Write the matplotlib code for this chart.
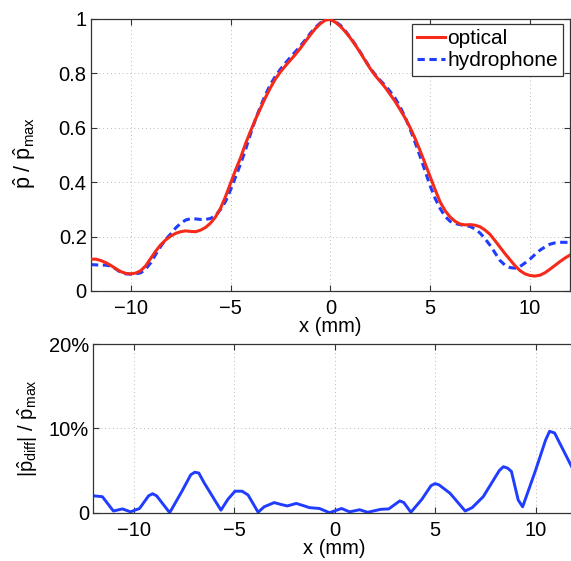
import numpy as np
import matplotlib
matplotlib.use("Agg")
import matplotlib.pyplot as plt
from matplotlib.ticker import FixedLocator, FixedFormatter

plt.rcParams['font.family'] = ['Liberation Sans', 'DejaVu Sans']
plt.rcParams['mathtext.fontset'] = 'custom'
plt.rcParams['mathtext.rm'] = 'Liberation Sans'
plt.rcParams['mathtext.it'] = 'Liberation Sans:italic'
plt.rcParams['mathtext.bf'] = 'Liberation Sans:bold'

# lateral position of the beam profile samples (mm), 0.25 mm spacing
x_profile = [-12.0, -11.75, -11.5, -11.25, -11.0, -10.75, -10.5, -10.25,
             -10.0, -9.75, -9.5, -9.25, -9.0, -8.75, -8.5, -8.25,
             -8.0, -7.75, -7.5, -7.25, -7.0, -6.75, -6.5, -6.25,
             -6.0, -5.75, -5.5, -5.25, -5.0, -4.75, -4.5, -4.25,
             -4.0, -3.75, -3.5, -3.25, -3.0, -2.75, -2.5, -2.25,
             -2.0, -1.75, -1.5, -1.25, -1.0, -0.75, -0.5, -0.25,
             0.0, 0.25, 0.5, 0.75, 1.0, 1.25, 1.5, 1.75,
             2.0, 2.25, 2.5, 2.75, 3.0, 3.25, 3.5, 3.75,
             4.0, 4.25, 4.5, 4.75, 5.0, 5.25, 5.5, 5.75,
             6.0, 6.25, 6.5, 6.75, 7.0, 7.25, 7.5, 7.75,
             8.0, 8.25, 8.5, 8.75, 9.0, 9.25, 9.5, 9.75,
             10.0, 10.25, 10.5, 10.75, 11.0, 11.25, 11.5, 11.75, 12.0]

# normalised peak pressure, optical measurement
p_optical = [0.117, 0.117, 0.112, 0.104, 0.094, 0.082, 0.071, 0.065,
             0.063, 0.066, 0.075, 0.093, 0.120, 0.147, 0.170, 0.188,
             0.202, 0.212, 0.218, 0.221, 0.219, 0.218, 0.224, 0.234,
             0.250, 0.273, 0.305, 0.348, 0.397, 0.445, 0.490, 0.542,
             0.588, 0.632, 0.672, 0.712, 0.748, 0.780, 0.806, 0.828,
             0.849, 0.870, 0.893, 0.918, 0.942, 0.965, 0.983, 0.996,
             0.998, 0.988, 0.973, 0.953, 0.930, 0.904, 0.876, 0.846,
             0.817, 0.792, 0.770, 0.748, 0.722, 0.696, 0.666, 0.635,
             0.600, 0.560, 0.515, 0.468, 0.420, 0.372, 0.327, 0.295,
             0.272, 0.256, 0.246, 0.243, 0.244, 0.242, 0.236, 0.224,
             0.208, 0.185, 0.161, 0.137, 0.115, 0.093, 0.075, 0.063,
             0.057, 0.055, 0.058, 0.067, 0.080, 0.094, 0.108, 0.121, 0.132]

# normalised peak pressure, hydrophone measurement
p_hydrophone = [0.097, 0.096, 0.095, 0.095, 0.092, 0.081, 0.068, 0.063,
                0.062, 0.063, 0.067, 0.081, 0.104, 0.135, 0.164, 0.190,
                0.210, 0.232, 0.249, 0.261, 0.266, 0.265, 0.263, 0.263,
                0.267, 0.278, 0.300, 0.330, 0.372, 0.420, 0.467, 0.520,
                0.578, 0.632, 0.679, 0.722, 0.760, 0.790, 0.816, 0.838,
                0.860, 0.880, 0.901, 0.924, 0.948, 0.969, 0.986, 0.998,
                1.000, 0.990, 0.977, 0.956, 0.932, 0.906, 0.878, 0.848,
                0.819, 0.795, 0.774, 0.755, 0.733, 0.708, 0.676, 0.638,
                0.594, 0.545, 0.494, 0.440, 0.386, 0.340, 0.303, 0.274,
                0.256, 0.248, 0.244, 0.241, 0.237, 0.228, 0.213, 0.192,
                0.168, 0.140, 0.112, 0.095, 0.086, 0.084, 0.090, 0.103,
                0.117, 0.134, 0.150, 0.162, 0.172, 0.177, 0.179, 0.179, 0.178]

# absolute difference between the two profiles (fraction of p_max)
x_diff = [-12.0, -11.55, -11.0, -10.55, -10.15, -9.7, -9.25, -9.05, -8.85, -8.2,
          -7.6, -7.15, -6.95, -6.75, -6.5, -5.65, -5.3, -4.95, -4.6, -4.3,
          -3.8, -3.5, -3.0, -2.7, -2.35, -1.9, -1.5, -1.25, -0.75, -0.25,
          0.35, 0.75, 1.25, 1.65, 2.3, 2.7, 3.25, 3.45, 3.8, 4.35,
          4.8, 5.0, 5.2, 5.75, 6.5, 6.85, 7.4, 8.2, 8.4, 8.6,
          8.8, 9.14, 9.36, 10.0, 10.5, 10.7, 10.95, 11.8, 12.0]
p_diff = [0.020, 0.019, 0.002, 0.0045, 0.001, 0.005, 0.020, 0.0225, 0.020, 0.0,
          0.025, 0.045, 0.048, 0.047, 0.036, 0.003, 0.016, 0.0255, 0.0255, 0.021,
          0.0005, 0.007, 0.012, 0.010, 0.008, 0.011, 0.008, 0.006, 0.005, 0.0,
          0.005, 0.001, 0.0035, 0.0005, 0.004, 0.0045, 0.014, 0.012, 0.0005, 0.016,
          0.032, 0.0345, 0.033, 0.023, 0.002, 0.006, 0.019, 0.050, 0.0545, 0.053,
          0.049, 0.015, 0.007, 0.050, 0.086, 0.0965, 0.0945, 0.0545, 0.044]

x_ticks = [-10, -5, 0, 5, 10]
top_yticks = [0, 0.2, 0.4, 0.6, 0.8, 1]
top_ytick_labels = ['0', '0.2', '0.4', '0.6', '0.8', '1']
bottom_yticks = [0, 0.1, 0.2]
bottom_ytick_labels = ['0', '10%', '20%']

RED = '#f52a1a'
BLUE = '#1f3cff'
FS = 14.5
W, H = 571, 561

fig = plt.figure(figsize=(W / 100, H / 100), dpi=100)
ax1 = fig.add_axes([90.9 / W, 1 - 291 / H, 479 / W, 272 / H])
ax2 = fig.add_axes([93.3 / W, 1 - 512.7 / H, 482.4 / W, 168.7 / H])


def style_axes(ax):
    for s in ax.spines.values():
        s.set_color('#333333')
        s.set_linewidth(0.9)
    ax.tick_params(direction='in', length=4, width=0.8, color='#333333',
                   top=True, right=True, labelsize=FS, pad=6)
    ax.tick_params(axis='y', pad=3)
    ax.grid(True, linestyle=(0, (1, 3)), color='#b8b8b8', linewidth=0.7)
    ax.set_axisbelow(True)


ax1.plot(x_profile, p_optical, color=RED, lw=2.2, label='optical', zorder=3)
ax1.plot(x_profile, p_hydrophone, color=BLUE, lw=2.2, linestyle=(0, (2.4, 1.5)),
         label='hydrophone', zorder=2)
ax1.set_xlim(-12, 12)
ax1.set_ylim(0, 1)
ax1.xaxis.set_major_locator(FixedLocator(x_ticks))
ax1.yaxis.set_major_locator(FixedLocator(top_yticks))
ax1.yaxis.set_major_formatter(FixedFormatter(top_ytick_labels))
style_axes(ax1)
ax1.set_xlabel('x (mm)', fontsize=FS, labelpad=-1)

leg = ax1.legend(loc='upper right', bbox_to_anchor=(563 / W, 1 - 24 / H),
                 bbox_transform=fig.transFigure, fontsize=15, frameon=True,
                 fancybox=False, framealpha=1, edgecolor='#333333',
                 borderaxespad=0, borderpad=0.25, handlelength=1.35,
                 handletextpad=0.1, labelspacing=0.15)
leg.get_frame().set_linewidth(0.9)

ax2.plot(x_diff, p_diff, color=BLUE, lw=2.1)
ax2.set_xlim(-12, 12)
ax2.set_ylim(0, 0.2)
ax2.xaxis.set_major_locator(FixedLocator(x_ticks))
ax2.yaxis.set_major_locator(FixedLocator(bottom_yticks))
ax2.yaxis.set_major_formatter(FixedFormatter(bottom_ytick_labels))
style_axes(ax2)
ax2.set_xlabel('x (mm)', fontsize=FS, labelpad=-1)

fig.text(25 / W, 1 - 153 / H, r'$\hat{\mathrm{p}}$ / $\hat{\mathrm{p}}_{\mathrm{max}}$',
         rotation=90, ha='center', va='center', fontsize=15.5)
fig.text(28 / W, 1 - 428 / H,
         r'$|\hat{\mathrm{p}}_{\mathrm{diff}}|$ / $\hat{\mathrm{p}}_{\mathrm{max}}$',
         rotation=90, ha='center', va='center', fontsize=FS)

fig.savefig('out.png', dpi=100)
